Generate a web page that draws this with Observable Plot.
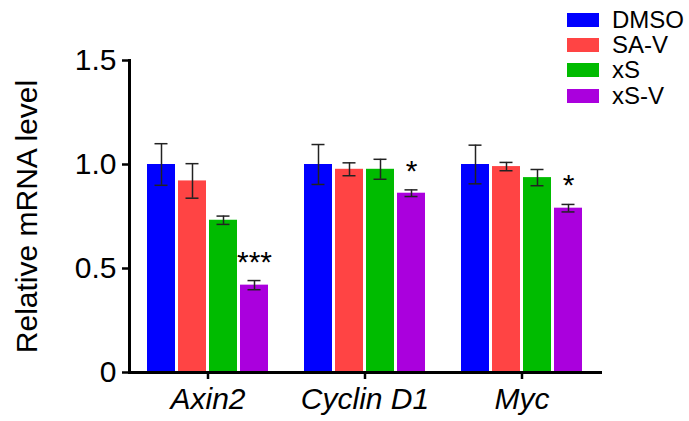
<!DOCTYPE html>
<html>
<head>
<meta charset="utf-8">
<script src="https://cdn.jsdelivr.net/npm/d3@7"></script>
<script src="https://cdn.jsdelivr.net/npm/@observablehq/plot@0.6"></script>
<style>
  html, body { margin: 0; padding: 0; background: #fff; }
  #wrap { position: relative; width: 689px; height: 421px; font-family: "Liberation Sans", Arial, sans-serif; }
  #legend { position: absolute; left: 567px; top: 7px; }
  .row { display: flex; align-items: center; height: 25.3px; }
  .sw { width: 32px; height: 14px; margin-right: 13px; }
  .lab { font-size: 24px; color: #000; line-height: 1; }
</style>
</head>
<body>
<div id="wrap"><div id="legend"></div></div>
<script>
const genes = ["Axin2", "Cyclin D1", "Myc"];
const treatments = ["DMSO", "SA-V", "xS", "xS-V"];
const colors = ["#0000ff", "#ff4444", "#00bb00", "#aa00dd"];

const dmso = [1.00, 1.00, 1.00];
const saV = [0.921, 0.977, 0.990];
const xS = [0.732, 0.977, 0.937];
const xSV = [0.420, 0.862, 0.790];

const errDmso = [0.100, 0.096, 0.093];
const errSaV = [0.083, 0.031, 0.020];
const errXS = [0.020, 0.048, 0.039];
const errXSV = [0.022, 0.016, 0.018];

const stars = ["***", "*", "*"];
const yTicks = [0, 0.5, 1.0, 1.5];

const series = [dmso, saV, xS, xSV];
const errs = [errDmso, errSaV, errXS, errXSV];

const rows = [];
genes.forEach((g, gi) => {
  treatments.forEach((t, ti) => {
    const v = series[ti][gi], e = errs[ti][gi];
    rows.push({gene: g, treatment: t, value: v, lo: v - e, hi: v + e});
  });
});
const starRows = genes.map((g, gi) => ({
  gene: g, treatment: "xS-V", y: xSV[gi] + errXSV[gi], text: stars[gi]
}));

const chart = Plot.plot({
  width: 689,
  height: 421,
  marginLeft: 128,
  marginRight: 89,
  marginTop: 60,
  marginBottom: 49,
  style: {fontFamily: "'Liberation Sans', Arial, sans-serif", background: "transparent", color: "#000"},
  fx: {domain: genes, paddingInner: 0, paddingOuter: 0, label: null},
  x: {domain: treatments, paddingInner: 0.097, paddingOuter: 0.53, axis: null},
  y: {domain: [0, 1.5], axis: null},
  color: {domain: treatments, range: colors},
  marks: [
    Plot.barY(rows, {fx: "gene", x: "treatment", y: "value", fill: "treatment"}),
    Plot.ruleX(rows, {fx: "gene", x: "treatment", y1: "lo", y2: "hi", stroke: "#222", strokeWidth: 1.5}),
    Plot.tickY(rows, {fx: "gene", x: "treatment", y: "hi", stroke: "#222", strokeWidth: 1.5, insetLeft: 7.5, insetRight: 7.5}),
    Plot.tickY(rows, {fx: "gene", x: "treatment", y: "lo", stroke: "#222", strokeWidth: 1.5, insetLeft: 7.5, insetRight: 7.5}),
    Plot.text(starRows, {fx: "gene", x: "treatment", y: "y", text: "text", fontSize: 30, lineAnchor: "bottom", dy: -9, fill: "#000"}),
    Plot.axisY({
      ticks: yTicks,
      tickFormat: d => d === 0 ? "0" : d.toFixed(1),
      tickSize: 7, tickPadding: 6, strokeWidth: 2.5, fontSize: 30,
      label: "Relative mRNA level", labelAnchor: "center", labelArrow: "none", labelOffset: 114
    }),
    Plot.axisFx({anchor: "bottom", tickSize: 7, tickPadding: 8, strokeWidth: 2.5, fontSize: 30, fontStyle: "italic", label: null}),
    Plot.frame({anchor: "left", facet: "super", strokeWidth: 3}),
    Plot.frame({anchor: "bottom", facet: "super", strokeWidth: 3})
  ]
});
document.getElementById("wrap").prepend(chart);
chart.style.position = "absolute";
chart.style.left = "0";
chart.style.top = "0";

const legend = document.getElementById("legend");
treatments.forEach((t, i) => {
  const r = document.createElement("div");
  r.className = "row";
  r.innerHTML = `<div class="sw" style="background:${colors[i]}"></div><div class="lab">${t}</div>`;
  legend.appendChild(r);
});
</script>
</body>
</html>
